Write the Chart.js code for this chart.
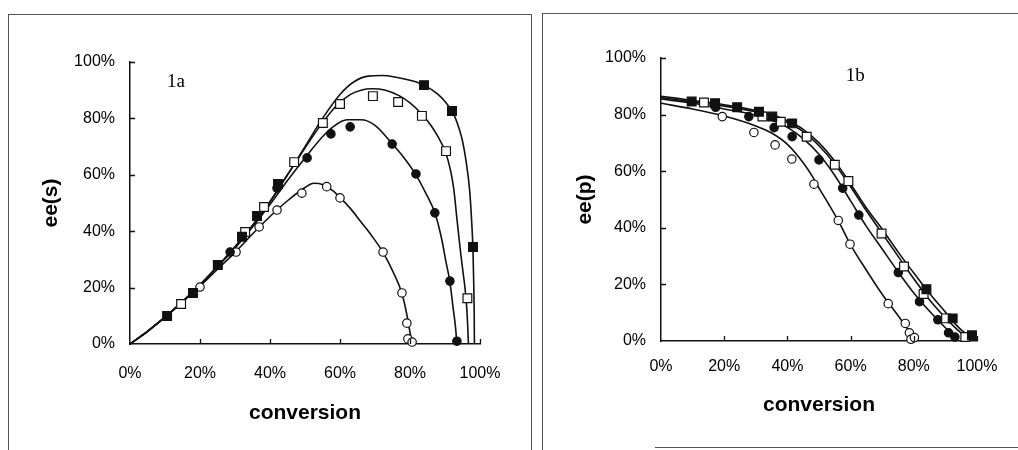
<!DOCTYPE html>
<html>
<head>
<meta charset="utf-8">
<script src="https://cdn.jsdelivr.net/npm/chart.js@4/dist/chart.umd.min.js"></script>
<style>
  html, body { margin: 0; padding: 0; background: #fff; }
  #page { position: relative; width: 1018px; height: 450px; overflow: hidden; background: #fff; }
  #page canvas { position: absolute; top: 0; }
  .frame { position: absolute; border: 0 solid #555; box-sizing: border-box; }
</style>
</head>
<body>
<div id="page">
  <div class="frame" style="left:8px;top:14px;width:524px;height:440px;border-width:1px 1px 0 1px;"></div>
  <div class="frame" style="left:542px;top:13px;width:480px;height:440px;border-width:1px 0 0 1px;"></div>
  <div class="frame" style="left:655px;top:447px;width:363px;height:1px;border-width:1px 0 0 0;"></div>
  <canvas id="chartS" width="531" height="450" style="left:0px"></canvas>
  <canvas id="chartP" width="487" height="450" style="left:531px"></canvas>
</div>
<script>
// Axis ticks (percent) shared by both panels
const tickValues = [0, 20, 40, 60, 80, 100];

// ---- Panel 1a: ee of substrate vs conversion, [conversion %, ee %] ----
const sMarkFilledSq = [[10.6, 9.9], [18, 18.1], [25.1, 28], [32, 38], [36.3, 45.4], [42.3, 56.7], [84, 91.8], [92, 82.6], [98, 34.4]];
const sMarkOpenSq   = [[14.6, 14.2], [32.9, 39.7], [38.3, 48.6], [46.9, 64.5], [55.1, 78.4], [60, 85.1], [69.4, 87.9], [76.6, 85.8], [83.4, 80.9], [90.3, 68.4], [96.4, 16.2]];
const sMarkFilledCi = [[28.6, 32.6], [42, 55.3], [50.6, 66], [57.4, 74.5], [62.9, 77], [74.9, 70.9], [81.7, 60.3], [87.1, 46.5], [91.4, 22.3], [93.4, 1]];
const sMarkOpenCi   = [[20, 20.2], [30.3, 32.6], [36.9, 41.5], [42, 47.5], [49.1, 53.5], [56.2, 55.8], [60, 51.8], [72.3, 32.6], [77.7, 18.1], [79.1, 7.4], [79.4, 1.8], [80.6, 0.7]];

const sFitFilledSq = [[0, 0], [5, 4.5], [10, 9.5], [15, 15], [20, 21], [25, 27.5], [30, 34.5], [35, 42], [40, 50.5], [45, 60], [50, 70], [55, 80], [60, 88.5], [64, 93], [68, 95], [72, 95.2], [76, 94.6], [80, 93.5], [84, 91.8], [88, 88.5], [90, 86], [92, 82.6], [93, 80], [94, 76.5], [95, 72], [96, 65], [97, 55], [97.5, 46], [98, 33], [98.2, 22], [98.35, 10], [98.4, 0]];
const sFitOpenSq   = [[0, 0], [5, 4.5], [10, 9.5], [15, 15], [20, 21], [25, 27.5], [30, 34.5], [35, 42], [40, 50.5], [45, 60], [50, 69.5], [55, 78.5], [59, 84.5], [63, 88.5], [66, 90], [69, 90.5], [73, 90], [77, 88], [80, 85.5], [83, 82], [86, 77.5], [88, 73.5], [90, 68.5], [91.5, 62], [92.5, 55], [93.4, 44.5], [94.5, 32], [95.2, 25], [95.7, 20], [96.2, 13], [96.5, 6], [96.7, 0]];
const sFitFilledCi = [[0, 0], [5, 4.5], [10, 9.5], [15, 15], [20, 21], [25, 27.5], [30, 34], [35, 41.5], [40, 49.5], [45, 58], [50, 66], [55, 73.5], [58, 77], [62, 79.5], [66, 79.5], [70, 77.5], [74.9, 71], [78, 66.5], [81.7, 60], [84.5, 53.5], [87.1, 46.5], [89, 37.5], [90.3, 29], [91.4, 22], [92.3, 13], [93, 6], [93.4, 0]];
const sFitOpenCi   = [[0, 0], [5, 4.5], [10, 9.5], [15, 15], [20, 20.5], [25, 26.5], [30, 32.5], [35, 39], [40, 45.2], [45, 50.8], [50, 55.5], [52.5, 57], [55, 56.6], [58, 54.3], [60, 52], [63, 48], [66, 43.3], [69, 38.5], [72.3, 32.5], [75, 26], [77.7, 18], [79, 11], [79.8, 5.5], [80.6, 0]];

// ---- Panel 1b: ee of product vs conversion ----
const pMarkFilledSq = [[9.7, 84.6], [17.1, 84], [24.1, 82.6], [31, 81], [35.2, 79.3], [41.5, 76.9], [84, 18.3], [92.3, 8], [98.4, 2]];
const pMarkOpenSq   = [[13.6, 84.3], [32.1, 79.3], [37.9, 77.5], [46.1, 72.2], [55, 62.3], [59.3, 56.5], [69.8, 38], [76.9, 26.3], [83.1, 16.6], [90.2, 8], [96.3, 1.4]];
const pMarkFilledCi = [[17.3, 82.6], [27.8, 79.3], [35.8, 75.4], [41.5, 72.2], [50, 64], [57.5, 54], [62.6, 44.5], [75.1, 24.2], [81.8, 13.9], [87.6, 7.5], [91, 2.9], [93, 1.4]];
const pMarkOpenCi   = [[19.4, 79.3], [29.4, 73.7], [36.1, 69.3], [41.4, 64.3], [48.4, 55.4], [56.1, 42.6], [59.8, 34.2], [71.9, 13.2], [77.3, 6.2], [78.6, 2.9], [79.1, 0.6], [80.2, 1.2]];

const pFitFilledSq = [[0, 86.5], [10, 85], [20, 83.5], [30, 81.5], [35, 80], [40, 77.8], [45, 74.8], [50, 70], [55, 63.5], [60, 55.5], [65, 47], [70, 39.5], [75, 31.5], [80, 24], [85, 16.8], [90, 10.2], [93, 6.2], [96, 3], [98.3, 1.8]];
const pFitOpenSq   = [[0, 86], [10, 84.5], [20, 83], [30, 81], [35, 79.5], [40, 77.2], [45, 74], [50, 69], [55, 62.5], [60, 54.5], [65, 46], [70, 38], [75, 30], [80, 22], [85, 14.5], [90, 8.2], [93, 4.8], [96.3, 1.5]];
const pFitFilledCi = [[0, 85.5], [10, 84], [20, 82], [30, 79.8], [35, 78], [40, 75.5], [45, 71.5], [50, 66], [55, 58.5], [60, 49.5], [65, 40.5], [70, 32.5], [75, 24.5], [80, 17], [85, 10.5], [90, 4.7], [93, 1.5]];
const pFitOpenCi   = [[0, 84], [10, 82], [20, 79.5], [30, 76], [35, 73.5], [40, 69.5], [45, 63], [48, 58], [50, 54], [53, 48.5], [56, 42.7], [60, 34], [65, 25], [70, 16.5], [75, 9], [78, 4.3], [80, 1.5], [81, 0.8]];

const toXY = arr => arr.map(([x, y]) => ({ x, y }));
const INK = '#111';

function markerSet(data, style, filled) {
  const isRect = style === 'rect';
  return {
    data: toXY(data), showLine: false, clip: false, order: 0,
    pointStyle: style, pointRadius: isRect ? 6.2 : 4.2, pointHoverRadius: isRect ? 6.2 : 4.2,
    pointBackgroundColor: filled ? INK : '#fff', pointBorderColor: INK, pointBorderWidth: 1.2
  };
}
function fitSet(data) {
  return {
    data: toXY(data), showLine: true, clip: false, order: 1,
    pointRadius: 0, pointHoverRadius: 0, borderColor: INK, borderWidth: 1.6,
    cubicInterpolationMode: 'monotone', fill: false
  };
}

// inward tick marks on both axes plus the panel tag
const panelDecor = {
  id: 'panelDecor',
  afterDatasetsDraw(chart, args, opts) {
    const { ctx, chartArea: a, scales: { x, y } } = chart;
    ctx.save();
    ctx.strokeStyle = INK;
    ctx.lineWidth = 1.3;
    ctx.beginPath();
    tickValues.forEach(v => {
      if (v === 0) return;
      const py = Math.round(y.getPixelForValue(v)) + 0.5;
      ctx.moveTo(a.left, py); ctx.lineTo(a.left + 5, py);
      const px = Math.round(x.getPixelForValue(v)) + 0.5;
      ctx.moveTo(px, a.bottom); ctx.lineTo(px, a.bottom - 5);
    });
    ctx.stroke();
    ctx.fillStyle = '#000';
    ctx.font = '19px "Liberation Serif", "Times New Roman", serif';
    ctx.textAlign = 'left';
    ctx.textBaseline = 'alphabetic';
    ctx.fillText(opts.text, x.getPixelForValue(opts.at[0]), y.getPixelForValue(opts.at[1]));
    ctx.restore();
  }
};

function makePanel(canvasId, cfg) {
  const tickFont = { family: '"Liberation Sans", Arial, sans-serif', size: 16 };
  const titleFont = { family: '"Liberation Sans", Arial, sans-serif', size: 21, weight: 'bold' };
  return new Chart(document.getElementById(canvasId), {
    type: 'scatter',
    data: {
      datasets: [
        markerSet(cfg.marks[0], 'rect', true),
        markerSet(cfg.marks[1], 'rect', false),
        markerSet(cfg.marks[2], 'circle', true),
        markerSet(cfg.marks[3], 'circle', false),
        fitSet(cfg.fits[0]), fitSet(cfg.fits[1]), fitSet(cfg.fits[2]), fitSet(cfg.fits[3])
      ]
    },
    options: {
      responsive: false, animation: false, events: [],
      layout: { padding: { left: 0, top: cfg.top, right: cfg.right, bottom: 0 } },
      plugins: { legend: { display: false }, tooltip: { enabled: false }, panelDecor: cfg.tag },
      scales: {
        x: {
          type: 'linear', min: 0, max: 100,
          afterBuildTicks: s => { s.ticks = tickValues.map(v => ({ value: v })); },
          afterFit: s => { s.height = cfg.xHeight; },
          ticks: { callback: v => v + '%', font: tickFont, color: '#000', padding: cfg.xTickPad, maxRotation: 0 },
          grid: { display: true, drawOnChartArea: false, drawTicks: false },
          border: { display: true, color: INK, width: 1.5 },
          title: { display: true, text: 'conversion', font: titleFont, color: '#000', padding: { top: 0, bottom: cfg.xTitlePad } }
        },
        y: {
          type: 'linear', min: 0, max: 100,
          afterBuildTicks: s => { s.ticks = tickValues.map(v => ({ value: v })); },
          afterFit: s => { s.width = cfg.yWidth; },
          ticks: { callback: v => v + '%', font: tickFont, color: '#000', padding: 15 },
          grid: { display: true, drawOnChartArea: false, drawTicks: false },
          border: { display: true, color: INK, width: 1.5 },
          title: { display: true, text: cfg.yTitle, font: titleFont, color: '#000', padding: { top: cfg.yTitlePad, bottom: 0 } }
        }
      }
    },
    plugins: [panelDecor]
  });
}

makePanel('chartS', {
  marks: [sMarkFilledSq, sMarkOpenSq, sMarkFilledCi, sMarkOpenCi],
  fits: [sFitFilledSq, sFitOpenSq, sFitFilledCi, sFitOpenCi],
  yTitle: 'ee(s)', tag: { text: '1a', at: [10.6, 91] },
  top: 62, right: 51, xHeight: 106, yWidth: 130,
  xTickPad: 20, xTitlePad: 24, yTitlePad: 39
});

makePanel('chartP', {
  marks: [pMarkFilledSq, pMarkOpenSq, pMarkFilledCi, pMarkOpenCi],
  fits: [pFitFilledSq, pFitOpenSq, pFitFilledCi, pFitOpenCi],
  yTitle: 'ee(p)', tag: { text: '1b', at: [58.5, 92] },
  top: 58, right: 41, xHeight: 109, yWidth: 130,
  xTickPad: 16, xTitlePad: 32, yTitlePad: 42
});
</script>
</body>
</html>
